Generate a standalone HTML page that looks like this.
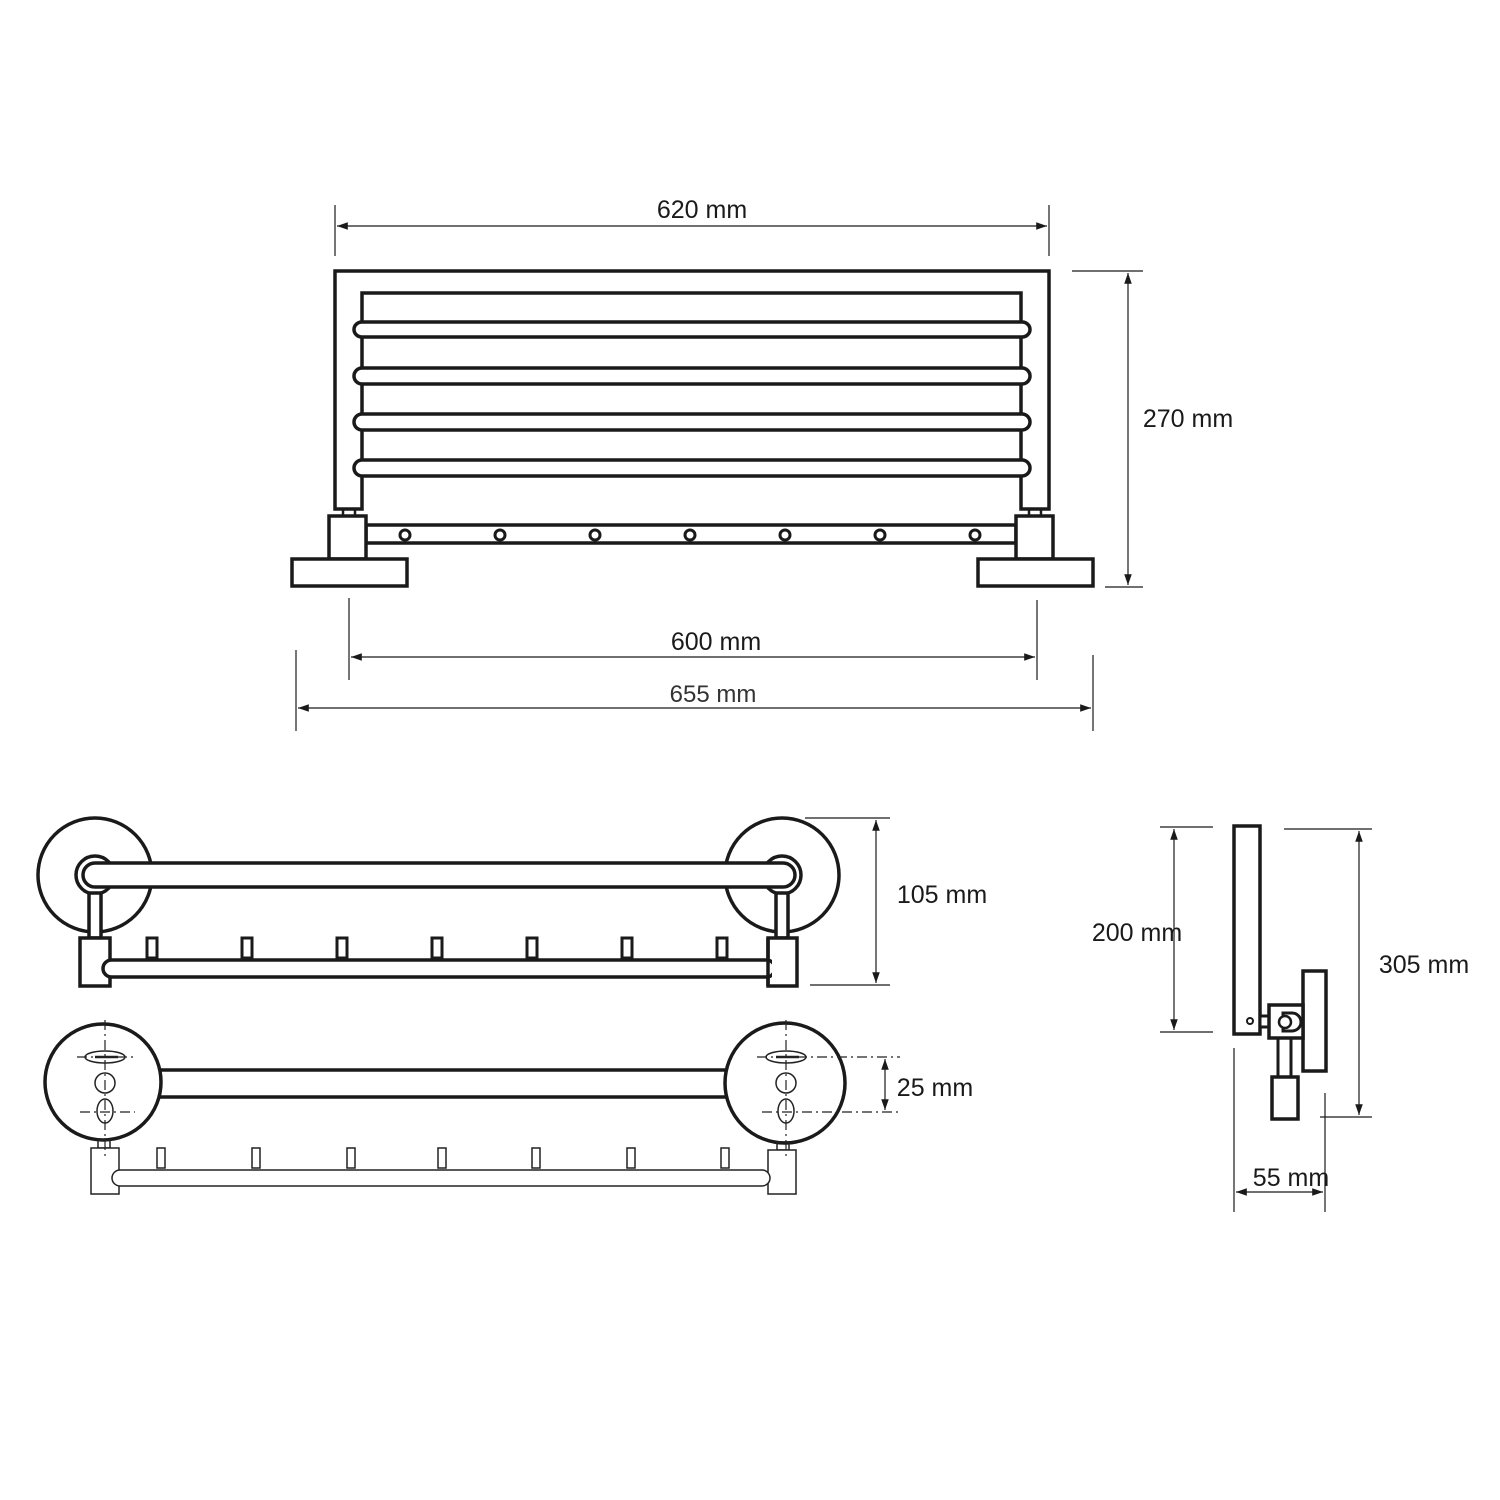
<!DOCTYPE html>
<html><head><meta charset="utf-8"><style>
html,body{margin:0;padding:0;background:#fff;}
svg{display:block;}
text{font-family:"Liberation Sans",sans-serif;fill:#1a1a1a;}
</style></head><body>
<svg width="1500" height="1500" viewBox="0 0 1500 1500" xmlns="http://www.w3.org/2000/svg">
<defs>
<marker id="a" viewBox="0 0 10 10" refX="10" refY="5" markerWidth="9" markerHeight="9" orient="auto-start-reverse"><path d="M0,1.5 L10,5 L0,8.5 z" fill="#1a1a1a"/></marker>
</defs>
<g fill="none" stroke="#1a1a1a" stroke-width="3.5">
<path d="M335,509 V271 H1049 V509 H1021 V293 H362 V509 Z" fill="#fff"/>
<g fill="#fff">
<path d="M362,322 H1022 a8,7.5 0 0 1 0,15 H362 a8,7.5 0 0 1 0,-15 z"/>
<path d="M362,368 H1022 a8,8 0 0 1 0,16 H362 a8,8 0 0 1 0,-16 z"/>
<path d="M362,414 H1022 a8,8 0 0 1 0,16 H362 a8,8 0 0 1 0,-16 z"/>
<path d="M362,460 H1022 a8,8 0 0 1 0,16 H362 a8,8 0 0 1 0,-16 z"/>
</g>
<rect x="343" y="509" width="12" height="7" stroke-width="2.5"/>
<rect x="1029" y="509" width="12" height="7" stroke-width="2.5"/>
<rect x="366" y="525" width="650" height="18"/>
<rect x="329" y="516" width="37" height="43" fill="#fff"/>
<rect x="1016" y="516" width="37" height="43" fill="#fff"/>
<rect x="292" y="559" width="115" height="27" fill="#fff"/>
<rect x="978" y="559" width="115" height="27" fill="#fff"/>
<g stroke-width="3">
<circle cx="405" cy="535" r="5"/><circle cx="500" cy="535" r="5"/><circle cx="595" cy="535" r="5"/><circle cx="690" cy="535" r="5"/><circle cx="785" cy="535" r="5"/><circle cx="880" cy="535" r="5"/><circle cx="975" cy="535" r="5"/>
</g>

<circle cx="95" cy="875" r="57" fill="#fff"/>
<circle cx="782" cy="875" r="57" fill="#fff"/>
<circle cx="95" cy="875" r="19" fill="#fff"/>
<circle cx="782" cy="875" r="19" fill="#fff"/>
<rect x="83" y="863" width="712" height="24" rx="12" fill="#fff"/>
<rect x="89" y="893" width="12" height="45" fill="#fff"/>
<rect x="776" y="893" width="12" height="45" fill="#fff"/>
<g stroke-width="3">
<rect x="147" y="938" width="10" height="20"/><rect x="242" y="938" width="10" height="20"/><rect x="337" y="938" width="10" height="20"/><rect x="432" y="938" width="10" height="20"/><rect x="527" y="938" width="10" height="20"/><rect x="622" y="938" width="10" height="20"/><rect x="717" y="938" width="10" height="20"/>
</g>
<rect x="80" y="938" width="30" height="48" fill="#fff"/>
<rect x="768" y="938" width="29" height="48" fill="#fff"/>
<rect x="103" y="960" width="672" height="17" rx="8.5" fill="#fff"/>
<rect x="772" y="956" width="6" height="24" fill="#fff" stroke="none"/>
<line x1="768" y1="938" x2="768" y2="986"/>

<rect x="150" y="1070" width="590" height="27" fill="#fff"/>
<circle cx="103" cy="1082" r="58" fill="#fff"/>
<circle cx="785" cy="1083" r="60" fill="#fff"/>
</g>
<g fill="none" stroke="#222" stroke-width="1.5">
<rect x="98" y="1140" width="12" height="8"/><rect x="777" y="1142" width="12" height="8"/>
<rect x="91" y="1148" width="28" height="46" fill="#fff"/>
<rect x="768" y="1150" width="28" height="44" fill="#fff"/>
<rect x="112" y="1170" width="658" height="16" rx="8" fill="#fff"/>
<rect x="157" y="1148" width="8" height="20"/><rect x="252" y="1148" width="8" height="20"/><rect x="347" y="1148" width="8" height="20"/><rect x="438" y="1148" width="8" height="20"/><rect x="532" y="1148" width="8" height="20"/><rect x="627" y="1148" width="8" height="20"/><rect x="721" y="1148" width="8" height="20"/>
<ellipse cx="105" cy="1057" rx="20" ry="6"/><line x1="95" y1="1057" x2="118" y2="1057" stroke-width="2.5"/>
<circle cx="105" cy="1083" r="10"/>
<ellipse cx="105" cy="1111" rx="8" ry="12"/>
<ellipse cx="786" cy="1057" rx="20" ry="6"/><line x1="776" y1="1057" x2="799" y2="1057" stroke-width="2.5"/>
<circle cx="786" cy="1083" r="10"/>
<ellipse cx="786" cy="1111" rx="8" ry="12"/>
<g stroke-dasharray="10,4,2,4" stroke-width="1.2">
<line x1="105" y1="1020" x2="105" y2="1160"/><line x1="77" y1="1057" x2="135" y2="1057"/><line x1="80" y1="1112" x2="135" y2="1112"/>
<line x1="786" y1="1020" x2="786" y2="1160"/><line x1="757" y1="1057" x2="900" y2="1057"/><line x1="762" y1="1112" x2="900" y2="1112"/>
</g>
</g>

<g fill="#fff" stroke="#1a1a1a" stroke-width="3.5">
<rect x="1234" y="826" width="26" height="208"/>
<rect x="1260" y="1016" width="12" height="11" stroke-width="3"/>
<rect x="1278" y="1038" width="13" height="40" stroke-width="3"/>
<rect x="1272" y="1077" width="26" height="42"/>
<rect x="1303" y="971" width="23" height="100"/>
<rect x="1269" y="1005" width="34" height="33"/>
<path d="M1283,1013 H1292 a9,9 0 0 1 0,18 H1283 z" stroke-width="3"/>
<circle cx="1285" cy="1022" r="6" stroke-width="2.5"/>
<circle cx="1250" cy="1021" r="3" stroke-width="2"/>
</g>

<g stroke="#1a1a1a" stroke-width="1.2" fill="none">
<line x1="335" y1="205" x2="335" y2="256"/><line x1="1049" y1="205" x2="1049" y2="256"/>
<line x1="337" y1="226" x2="1047" y2="226" marker-start="url(#a)" marker-end="url(#a)"/>
<line x1="1072" y1="271" x2="1143" y2="271"/><line x1="1105" y1="587" x2="1143" y2="587"/>
<line x1="1128" y1="273" x2="1128" y2="585" marker-start="url(#a)" marker-end="url(#a)"/>
<line x1="349" y1="598" x2="349" y2="680"/><line x1="1037" y1="600" x2="1037" y2="680"/>
<line x1="351" y1="657" x2="1035" y2="657" marker-start="url(#a)" marker-end="url(#a)"/>
<line x1="296" y1="650" x2="296" y2="731"/><line x1="1093" y1="655" x2="1093" y2="731"/>
<line x1="298" y1="708" x2="1091" y2="708" marker-start="url(#a)" marker-end="url(#a)"/>
<line x1="805" y1="818" x2="890" y2="818"/><line x1="810" y1="985" x2="890" y2="985"/>
<line x1="876" y1="820" x2="876" y2="983" marker-start="url(#a)" marker-end="url(#a)"/>
<line x1="885" y1="1059" x2="885" y2="1110" marker-start="url(#a)" marker-end="url(#a)"/>
<line x1="1160" y1="827" x2="1213" y2="827"/><line x1="1160" y1="1032" x2="1213" y2="1032"/>
<line x1="1174" y1="829" x2="1174" y2="1030" marker-start="url(#a)" marker-end="url(#a)"/>
<line x1="1284" y1="829" x2="1372" y2="829"/><line x1="1320" y1="1117" x2="1372" y2="1117"/>
<line x1="1359" y1="831" x2="1359" y2="1115" marker-start="url(#a)" marker-end="url(#a)"/>
<line x1="1234" y1="1048" x2="1234" y2="1212"/><line x1="1325" y1="1093" x2="1325" y2="1212"/>
<line x1="1236" y1="1192" x2="1323" y2="1192" marker-start="url(#a)" marker-end="url(#a)"/>
</g>
<g font-size="25" text-anchor="middle" style="fill:#111">
<text x="702" y="218">620 mm</text>
<text x="1188" y="427">270 mm</text>
<text x="716" y="650">600 mm</text>
<text x="713" y="702" font-size="24" style="fill:#333">655 mm</text>
<text x="942" y="903">105 mm</text>
<text x="935" y="1096">25 mm</text>
<text x="1137" y="941">200 mm</text>
<text x="1424" y="973">305 mm</text>
<text x="1291" y="1186">55 mm</text>
</g>
</svg>
</body></html>
